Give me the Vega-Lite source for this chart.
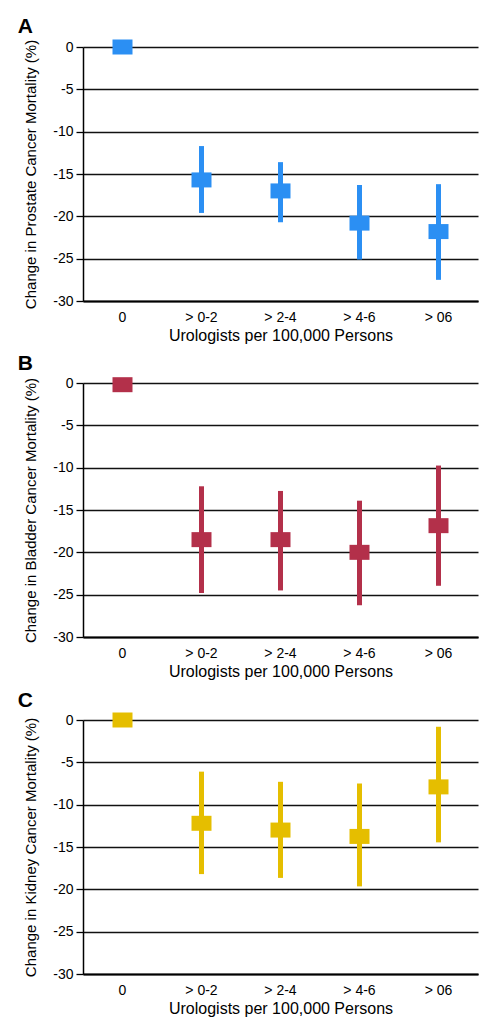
{
  "$schema": "https://vega.github.io/schema/vega-lite/v6.json",
  "padding": {"left": 17, "top": 16, "right": 5, "bottom": 5},
  "background": "white",
  "data": {"values": [
    {"panel": "A", "group": "0", "est": 0, "lo": null, "hi": null},
    {"panel": "A", "group": "> 0-2", "est": -15.7, "lo": -19.6, "hi": -11.7},
    {"panel": "A", "group": "> 2-4", "est": -17.0, "lo": -20.7, "hi": -13.6},
    {"panel": "A", "group": "> 4-6", "est": -20.8, "lo": -25.1, "hi": -16.3},
    {"panel": "A", "group": "> 06", "est": -21.8, "lo": -27.5, "hi": -16.2},
    {"panel": "B", "group": "0", "est": -0.2, "lo": null, "hi": null},
    {"panel": "B", "group": "> 0-2", "est": -18.5, "lo": -24.8, "hi": -12.2},
    {"panel": "B", "group": "> 2-4", "est": -18.5, "lo": -24.5, "hi": -12.75},
    {"panel": "B", "group": "> 4-6", "est": -20.0, "lo": -26.25, "hi": -13.9},
    {"panel": "B", "group": "> 06", "est": -16.85, "lo": -23.95, "hi": -9.75},
    {"panel": "C", "group": "0", "est": 0, "lo": null, "hi": null},
    {"panel": "C", "group": "> 0-2", "est": -12.2, "lo": -18.2, "hi": -6.1},
    {"panel": "C", "group": "> 2-4", "est": -13.0, "lo": -18.65, "hi": -7.3},
    {"panel": "C", "group": "> 4-6", "est": -13.75, "lo": -19.65, "hi": -7.5},
    {"panel": "C", "group": "> 06", "est": -7.9, "lo": -14.45, "hi": -0.8}
  ]},
  "spacing": 10,
  "config": {
    "view": {"stroke": null},
    "font": "Liberation Sans",
    "axis": {"labelColor": "black", "titleColor": "black", "labelFont": "Liberation Sans", "labelFontSize": 14, "titleFontWeight": "normal"},
    "axisY": {"grid": true, "gridColor": "#111111", "gridWidth": 1.3, "gridOpacity": 1, "domainColor": "black", "domainWidth": 1.5, "tickColor": "black", "tickSize": 7, "tickWidth": 1.3, "labelPadding": 3, "labelExpr": "replace(datum.label, '\u2212', '-')", "titleFont": "Liberation Sans", "titleFontSize": 15, "titlePadding": 14, "values": [-30, -25, -20, -15, -10, -5, 0]},
    "axisX": {"domainColor": "black", "domainWidth": 2, "ticks": false, "labelAngle": 0, "labelPadding": 9, "titleFont": "Liberation Sans", "titleFontSize": 16, "titlePadding": 3, "grid": false},
    "title": {"anchor": "start", "fontSize": 21, "fontWeight": "bold", "font": "Liberation Sans", "color": "black", "dx": -6, "offset": 2}
  },
  "vconcat": [
    {
      "width": 395, "height": 254,
      "title": "A",
      "transform": [{"filter": "datum.panel === 'A'"}],
      "encoding": {"x": {"field": "group", "type": "nominal", "sort": ["0", "> 0-2", "> 2-4", "> 4-6", "> 06"], "scale": {"paddingInner": 0, "paddingOuter": 0}, "axis": {"title": "Urologists per 100,000 Persons"}}},
      "layer": [
        {"mark": {"type": "rule", "strokeWidth": 5, "color": "#2B8FF3"},
         "encoding": {"y": {"field": "lo", "type": "quantitative", "scale": {"domain": [-30, 0], "nice": false}, "axis": {"title": "Change in Prostate Cancer Mortality (%)"}}, "y2": {"field": "hi"}}},
        {"mark": {"type": "point", "shape": "M-1,-0.75H1V0.75H-1Z", "size": 400, "filled": true, "opacity": 1, "color": "#2B8FF3"},
         "encoding": {"y": {"field": "est", "type": "quantitative", "scale": {"domain": [-30, 0], "nice": false}, "axis": {"title": "Change in Prostate Cancer Mortality (%)"}}}}
      ]
    },
    {
      "width": 395, "height": 254,
      "title": "B",
      "transform": [{"filter": "datum.panel === 'B'"}],
      "encoding": {"x": {"field": "group", "type": "nominal", "sort": ["0", "> 0-2", "> 2-4", "> 4-6", "> 06"], "scale": {"paddingInner": 0, "paddingOuter": 0}, "axis": {"title": "Urologists per 100,000 Persons"}}},
      "layer": [
        {"mark": {"type": "rule", "strokeWidth": 5, "color": "#B3304A"},
         "encoding": {"y": {"field": "lo", "type": "quantitative", "scale": {"domain": [-30, 0], "nice": false}, "axis": {"title": "Change in Bladder Cancer Mortality (%)"}}, "y2": {"field": "hi"}}},
        {"mark": {"type": "point", "shape": "M-1,-0.75H1V0.75H-1Z", "size": 400, "filled": true, "opacity": 1, "color": "#B3304A"},
         "encoding": {"y": {"field": "est", "type": "quantitative", "scale": {"domain": [-30, 0], "nice": false}, "axis": {"title": "Change in Bladder Cancer Mortality (%)"}}}}
      ]
    },
    {
      "width": 395, "height": 254,
      "title": "C",
      "transform": [{"filter": "datum.panel === 'C'"}],
      "encoding": {"x": {"field": "group", "type": "nominal", "sort": ["0", "> 0-2", "> 2-4", "> 4-6", "> 06"], "scale": {"paddingInner": 0, "paddingOuter": 0}, "axis": {"title": "Urologists per 100,000 Persons"}}},
      "layer": [
        {"mark": {"type": "rule", "strokeWidth": 5, "color": "#E5BE00"},
         "encoding": {"y": {"field": "lo", "type": "quantitative", "scale": {"domain": [-30, 0], "nice": false}, "axis": {"title": "Change in Kidney Cancer Mortality (%)"}}, "y2": {"field": "hi"}}},
        {"mark": {"type": "point", "shape": "M-1,-0.75H1V0.75H-1Z", "size": 400, "filled": true, "opacity": 1, "color": "#E5BE00"},
         "encoding": {"y": {"field": "est", "type": "quantitative", "scale": {"domain": [-30, 0], "nice": false}, "axis": {"title": "Change in Kidney Cancer Mortality (%)"}}}}
      ]
    }
  ]
}
